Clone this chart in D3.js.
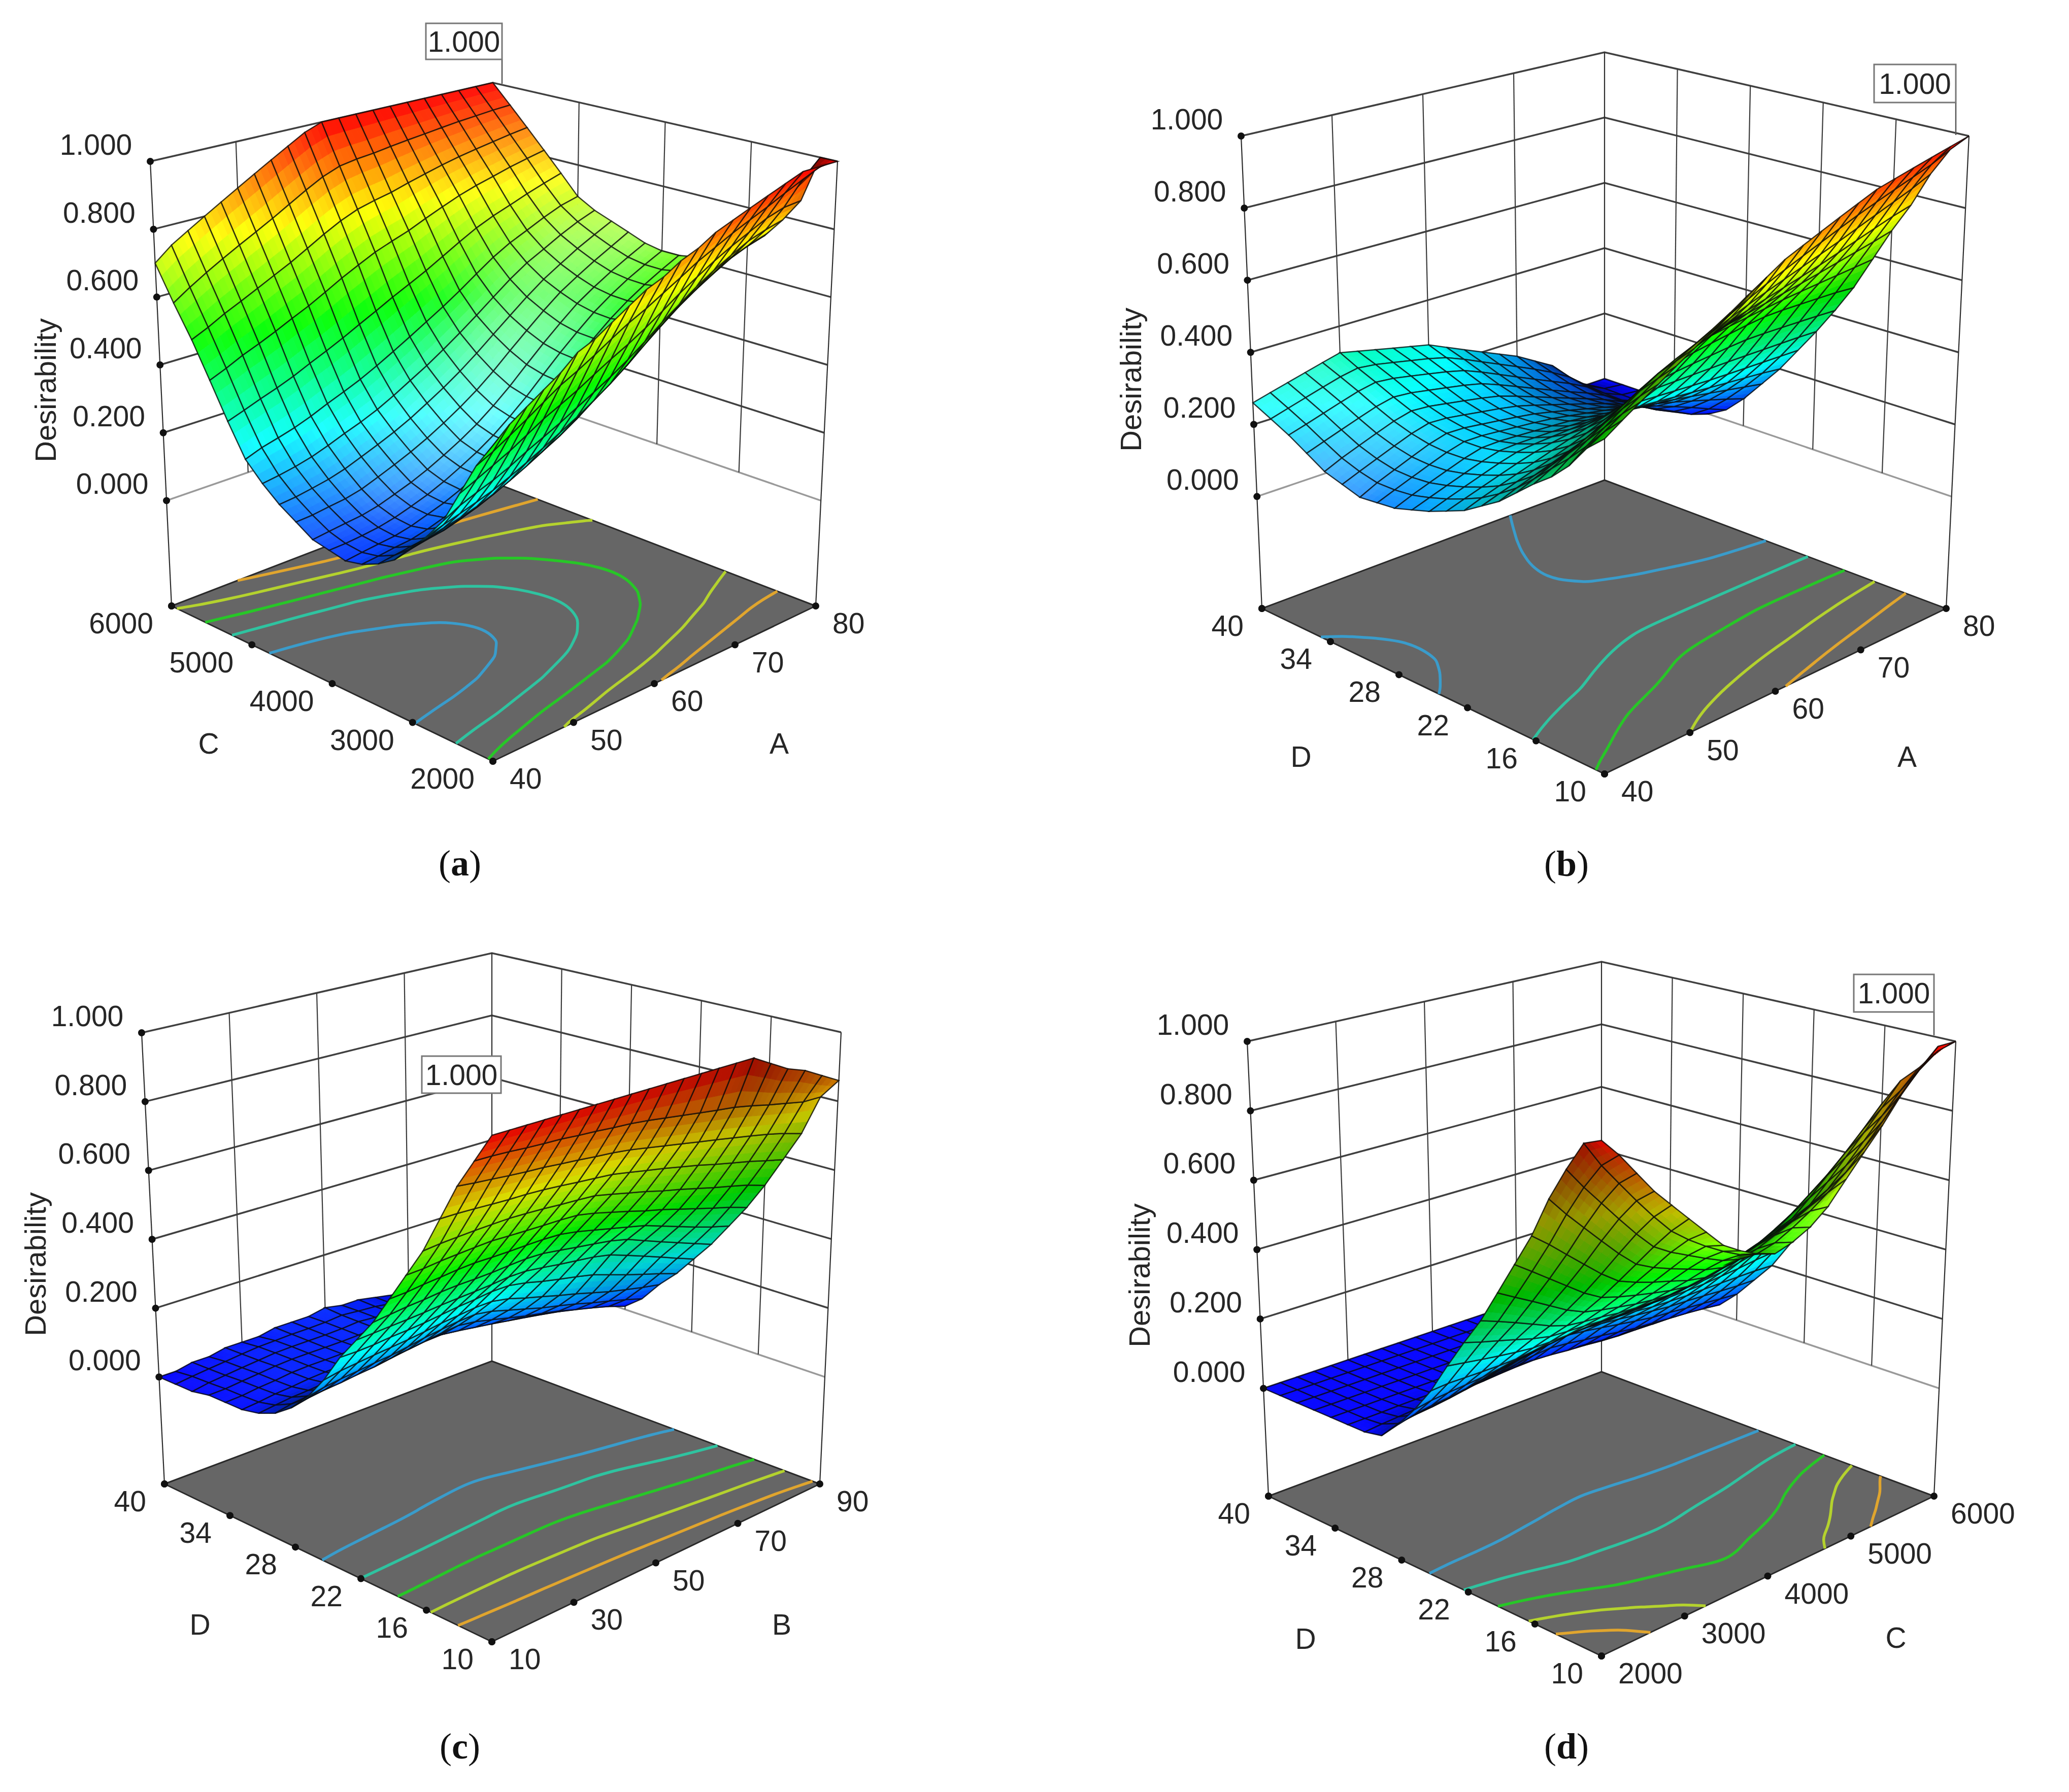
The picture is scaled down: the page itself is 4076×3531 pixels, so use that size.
<!DOCTYPE html>
<html><head><meta charset="utf-8">
<script src="https://cdn.jsdelivr.net/npm/d3@7/dist/d3.min.js"></script>
<style>html,body{margin:0;padding:0;background:#fff}svg{display:block}</style>
</head><body>
<script>
// Desirability. Rows: first factor (front -> right corner); columns: second factor (front -> left corner).
const surfaceA = [
[.52,.45,.36,.27,.21,.16,.11,.08,.06,.05,.06,.07,.10,.13,.17,.22,.31,.41,.51,.60,.70],
[.56,.47,.38,.29,.22,.17,.12,.08,.06,.05,.06,.07,.10,.13,.17,.23,.32,.43,.53,.63,.74],
[.59,.50,.40,.31,.23,.18,.13,.09,.07,.06,.06,.08,.11,.14,.18,.24,.34,.46,.56,.66,.77],
[.62,.53,.42,.32,.25,.19,.13,.09,.07,.06,.07,.08,.11,.15,.19,.25,.36,.47,.58,.69,.80],
[.65,.56,.45,.34,.26,.20,.15,.11,.08,.07,.08,.09,.12,.16,.21,.27,.37,.50,.60,.72,.83],
[.69,.59,.48,.37,.28,.22,.16,.12,.10,.09,.09,.11,.14,.18,.23,.29,.40,.52,.63,.74,.86],
[.71,.61,.50,.39,.30,.24,.18,.14,.11,.10,.11,.12,.16,.20,.24,.31,.42,.54,.65,.77,.89],
[.74,.64,.52,.41,.33,.26,.20,.16,.13,.12,.13,.14,.18,.22,.26,.33,.44,.57,.68,.80,.92],
[.77,.67,.55,.44,.35,.29,.23,.18,.16,.15,.15,.17,.20,.24,.29,.35,.47,.60,.71,.83,.95],
[.80,.70,.58,.46,.38,.31,.25,.21,.18,.17,.18,.19,.23,.27,.32,.38,.49,.62,.74,.86,.98],
[.82,.72,.60,.49,.41,.34,.28,.24,.21,.20,.21,.22,.26,.30,.34,.41,.52,.65,.76,.88,1],
[.85,.75,.63,.52,.44,.38,.32,.28,.25,.24,.25,.26,.29,.33,.38,.44,.54,.67,.77,.89,1],
[.87,.78,.66,.56,.47,.42,.36,.32,.29,.28,.29,.30,.33,.37,.41,.47,.57,.68,.78,.89,1],
[.90,.81,.70,.60,.52,.46,.40,.36,.34,.33,.34,.35,.38,.41,.45,.50,.60,.71,.80,.90,1],
[.92,.83,.73,.63,.56,.50,.45,.41,.39,.38,.39,.40,.42,.45,.49,.54,.63,.73,.81,.91,1],
[.94,.86,.76,.67,.60,.54,.49,.46,.44,.43,.43,.44,.47,.49,.53,.58,.66,.75,.83,.91,1],
[.96,.88,.79,.70,.63,.58,.53,.50,.48,.47,.48,.49,.51,.53,.57,.61,.68,.77,.84,.92,1],
[.98,.90,.81,.73,.66,.61,.57,.53,.52,.51,.51,.52,.54,.56,.59,.63,.70,.78,.85,.93,1],
[1,.93,.84,.76,.69,.65,.60,.57,.55,.54,.55,.55,.57,.60,.62,.66,.72,.80,.86,.93,1],
[1,.96,.85,.77,.71,.67,.63,.60,.58,.57,.57,.58,.60,.62,.65,.68,.74,.81,.87,.94,1],
[1,1,.86,.79,.73,.69,.65,.62,.61,.60,.60,.61,.63,.65,.67,.70,.76,.82,.88,.94,1]];
const surfaceB = [
[.52,.48,.42,.375,.34,.30,.26,.23,.20,.18,.16,.145,.13,.125,.12,.135,.15,.18,.21,.235,.26],
[.55,.51,.45,.404,.363,.318,.275,.244,.214,.194,.175,.16,.146,.142,.139,.153,.168,.196,.225,.249,.273],
[.579,.536,.484,.433,.386,.336,.289,.258,.228,.208,.19,.175,.162,.159,.158,.171,.186,.212,.24,.263,.286],
[.608,.564,.516,.462,.409,.354,.304,.272,.242,.222,.205,.19,.178,.176,.177,.189,.204,.228,.255,.277,.299],
[.638,.592,.548,.491,.432,.372,.318,.286,.256,.236,.22,.205,.194,.193,.196,.207,.222,.244,.27,.291,.312],
[.667,.62,.58,.52,.455,.39,.333,.30,.27,.25,.235,.22,.21,.21,.215,.225,.24,.26,.285,.305,.325],
[.698,.644,.598,.538,.477,.418,.358,.318,.284,.257,.237,.219,.207,.205,.208,.217,.231,.251,.275,.295,.314],
[.728,.668,.616,.556,.499,.446,.384,.336,.298,.264,.239,.218,.204,.2,.201,.209,.222,.242,.265,.285,.303],
[.759,.692,.634,.574,.521,.474,.409,.354,.312,.271,.241,.217,.201,.195,.194,.201,.213,.233,.255,.275,.292],
[.789,.716,.652,.592,.543,.502,.435,.372,.326,.278,.243,.216,.198,.19,.187,.193,.204,.224,.245,.265,.281],
[.82,.74,.67,.61,.565,.53,.46,.39,.34,.285,.245,.215,.195,.185,.18,.185,.195,.215,.235,.255,.27],
[.842,.762,.688,.624,.576,.536,.47,.396,.34,.282,.24,.209,.188,.175,.167,.169,.176,.192,.211,.231,.247],
[.864,.784,.706,.638,.587,.542,.48,.402,.34,.279,.235,.203,.181,.165,.154,.153,.157,.169,.187,.207,.224],
[.886,.806,.724,.652,.598,.548,.49,.408,.34,.276,.23,.197,.174,.155,.141,.137,.138,.146,.163,.183,.201],
[.908,.828,.742,.666,.609,.554,.5,.414,.34,.273,.225,.191,.167,.145,.128,.121,.119,.123,.139,.159,.178],
[.93,.85,.76,.68,.62,.56,.51,.42,.34,.27,.22,.185,.16,.135,.115,.105,.10,.10,.115,.135,.155],
[.944,.87,.782,.698,.633,.566,.507,.419,.34,.27,.216,.176,.144,.114,.092,.084,.08,.08,.092,.108,.124],
[.958,.89,.804,.716,.646,.572,.504,.418,.34,.27,.212,.167,.128,.093,.069,.063,.06,.06,.069,.081,.093],
[.972,.91,.826,.734,.659,.578,.501,.417,.34,.27,.208,.158,.112,.072,.046,.03,.02,.02,.02,.03,.03],
[.986,.93,.848,.752,.672,.584,.498,.416,.34,.27,.204,.149,.096,.051,0,0,0,0,0,0,0],
[1,.95,.87,.77,.685,.59,.495,.415,.34,.27,.20,.14,.08,.03,0,0,0,0,0,0,0]];
const surfaceC = [
[1,.92,.84,.74,.64,.56,.48,.40,.335,.27,.19,.125,.075,.04,.02,.01,.01,.01,0,0,0],
[1,.92,.84,.74,.64,.56,.48,.40,.34,.27,.20,.13,.08,.05,.02,.01,.01,.01,.01,.01,0],
[1,.92,.83,.74,.64,.57,.49,.41,.34,.27,.20,.14,.09,.05,.03,.02,.02,.02,.01,.01,.01],
[1,.91,.83,.73,.65,.57,.49,.41,.34,.28,.21,.14,.09,.05,.03,.02,.02,.02,.02,.02,.01],
[1,.91,.82,.73,.65,.57,.50,.42,.34,.28,.21,.15,.10,.06,.03,.03,.03,.03,.02,.02,.02],
[1,.91,.82,.73,.65,.58,.50,.42,.35,.28,.22,.15,.10,.06,.04,.03,.03,.03,.03,.03,.02],
[1,.90,.81,.73,.65,.57,.50,.42,.35,.29,.22,.16,.11,.07,.04,.03,.03,.03,.03,.03,.02],
[1,.90,.81,.72,.65,.57,.50,.42,.35,.30,.23,.17,.12,.07,.05,.03,.03,.03,.03,.03,.03],
[1,.89,.80,.72,.64,.57,.50,.43,.35,.30,.23,.18,.12,.08,.05,.04,.03,.03,.03,.03,.03],
[1,.89,.80,.71,.64,.57,.50,.43,.36,.31,.24,.18,.13,.09,.05,.04,.03,.03,.03,.03,.03],
[1,.88,.79,.71,.64,.57,.50,.43,.36,.31,.24,.19,.14,.09,.06,.04,.04,.04,.04,.04,.04],
[1,.87,.78,.70,.62,.56,.49,.42,.35,.30,.23,.18,.13,.08,.05,.04,.03,.03,.03,.03,.03],
[1,.86,.77,.69,.61,.54,.48,.41,.35,.28,.21,.16,.12,.07,.05,.03,.03,.03,.03,.03,.03],
[1,.85,.76,.68,.60,.53,.46,.41,.34,.27,.20,.15,.10,.07,.04,.03,.03,.02,.02,.02,.02],
[1,.84,.75,.67,.58,.51,.45,.40,.34,.26,.18,.13,.09,.06,.03,.02,.02,.02,.01,.01,.01],
[1,.83,.74,.66,.57,.50,.44,.39,.33,.25,.17,.12,.08,.05,.03,.02,.02,.01,.01,.01,.01],
[.97,.83,.73,.64,.56,.48,.42,.36,.31,.23,.15,.11,.07,.04,.02,.02,.02,.01,.01,.01,.01],
[.94,.82,.72,.63,.54,.47,.40,.34,.29,.21,.14,.09,.05,.03,.02,.01,.01,.01,.01,.01,.01],
[.92,.81,.71,.62,.53,.45,.38,.32,.27,.19,.13,.08,.04,.02,.01,.01,.01,0,0,0,0],
[.89,.81,.69,.60,.52,.44,.36,.30,.24,.18,.12,.06,.02,.01,.01,0,0,0,0,0,0],
[.86,.80,.68,.59,.50,.42,.35,.28,.22,.16,.11,.05,.01,0,0,0,0,0,0,0,0]];
const surfaceD = [
[1,.98,.90,.81,.70,.61,.52,.43,.355,.275,.19,.12,.06,.01,0,0,0,0,0,0,0],
[.95,.92,.84,.76,.66,.58,.49,.41,.34,.27,.19,.13,.07,.02,0,0,0,0,0,0,0],
[.89,.86,.79,.71,.62,.54,.47,.39,.33,.26,.19,.13,.08,.03,0,0,0,0,0,0,0],
[.83,.80,.73,.66,.58,.51,.44,.37,.32,.25,.19,.14,.08,.03,.01,0,0,0,0,0,0],
[.78,.74,.68,.61,.54,.47,.41,.35,.30,.25,.19,.14,.09,.04,.01,0,0,0,0,0,0],
[.73,.68,.62,.56,.50,.44,.39,.33,.29,.24,.19,.15,.10,.05,.01,0,0,0,0,0,0],
[.68,.65,.60,.54,.49,.43,.38,.33,.29,.24,.20,.16,.11,.06,.01,0,0,0,0,0,0],
[.63,.62,.58,.52,.47,.42,.37,.33,.29,.24,.20,.16,.12,.07,.01,0,0,0,0,0,0],
[.60,.59,.55,.51,.46,.41,.36,.32,.28,.25,.21,.17,.13,.07,.02,0,0,0,0,0,0],
[.575,.56,.53,.49,.44,.40,.36,.32,.28,.25,.21,.17,.14,.08,.02,0,0,0,0,0,0],
[.56,.54,.51,.47,.43,.39,.35,.32,.28,.25,.22,.18,.15,.09,.02,0,0,0,0,0,0],
[.575,.56,.53,.49,.44,.40,.36,.32,.28,.25,.21,.17,.14,.08,.02,0,0,0,0,0,0],
[.60,.59,.55,.51,.46,.42,.37,.33,.29,.25,.21,.17,.13,.07,.01,0,0,0,0,0,0],
[.64,.62,.57,.52,.47,.43,.38,.34,.29,.25,.20,.16,.12,.07,.01,0,0,0,0,0,0],
[.70,.65,.60,.54,.49,.45,.40,.34,.30,.25,.20,.16,.11,.06,0,0,0,0,0,0,0],
[.76,.68,.62,.56,.51,.46,.41,.35,.30,.25,.20,.15,.10,.05,0,0,0,0,0,0,0],
[.82,.74,.68,.62,.56,.50,.44,.37,.31,.26,.20,.15,.10,.05,0,0,0,0,0,0,0],
[.89,.79,.73,.68,.61,.54,.47,.39,.32,.26,.20,.15,.09,.04,0,0,0,0,0,0,0],
[.95,.86,.79,.73,.66,.58,.50,.42,.34,.27,.20,.14,.09,.04,0,0,0,0,0,0,0],
[1,.93,.84,.79,.72,.62,.53,.44,.35,.27,.20,.14,.08,.03,0,0,0,0,0,0,0],
[1,.96,.90,.85,.77,.66,.56,.46,.36,.28,.20,.14,.08,.03,0,0,0,0,0,0,0]];

const ticksA = [40,50,60,70,80];
const ticksB = [10,30,50,70,90];
const ticksC = [2000,3000,4000,5000,6000];
const ticksD = [10,16,22,28,34,40];
const ticksZ = [0,0.2,0.4,0.6,0.8,1];
const contourLevels = [1/6,2/6,3/6,4/6,5/6];
const contourColors = ["#3a9ccb","#2fc3a0","#27c727","#b4d22e","#e0a52e"];

const panels = [
 {data:surfaceA,uName:"A",vName:"C",uTicks:ticksA,vTicks:ticksC,sub:"a",
  L:[338,1194],F:[971,1500],R:[1607,1194],B:[971,950],Lt:[296,318],Ft:[971,518],Rt:[1650,318],Bt:[971,163],
  title:[89,769],vPos:[411,1465],uPos:[1535,1465],subPos:[906,1701],box:[839,46,150,71],lead:[989,117,165]},
 {data:surfaceB,uName:"A",vName:"D",uTicks:ticksA,vTicks:ticksD,sub:"b",
  L:[2486,1199],F:[3161,1525],R:[3834,1199],B:[3161,946],Lt:[2445,268],Ft:[3161,483],Rt:[3879,268],Bt:[3161,103],
  title:[2227,748],vPos:[2563,1491],uPos:[3757,1491],subPos:[3086,1702],box:[3692,127,161,75],lead:[3853,202,266]},
 {data:surfaceC,uName:"B",vName:"D",uTicks:ticksB,vTicks:ticksD,sub:"c",
  L:[324,2924],F:[969,3235],R:[1615,2924],B:[969,2682],Lt:[279,2035],Ft:[969,2237],Rt:[1657,2034],Bt:[969,1878],
  title:[69,2491],vPos:[394,3201],uPos:[1540,3201],subPos:[906,3441],box:[831,2081,156,73],lead:null},
 {data:surfaceD,uName:"C",vName:"D",uTicks:ticksC,vTicks:ticksD,sub:"d",
  L:[2499,2948],F:[3155,3263],R:[3810,2948],B:[3155,2703],Lt:[2457,2052],Ft:[3155,2247],Rt:[3853,2052],Bt:[3155,1895],
  title:[2244,2513],vPos:[2572,3229],uPos:[3735,3227],subPos:[3086,3441],box:[3652,1920,158,74],lead:[3810,1994,2040]}
];

const W=4076,H=3531,SANS="'Liberation Sans',Arial,sans-serif",SERIF="'Liberation Serif',serif",INK="#262626";
const svg=d3.select("body").append("svg").attr("width",W).attr("height",H).attr("viewBox",[0,0,W,H]);
svg.append("rect").attr("width",W).attr("height",H).attr("fill","#fff");

const zScale=d3.scaleLinear().domain([0,1]).range([0.237,1]);
const ramp=d3.scaleLinear().domain([0,.25,.5,.75,1]).range(["#0000ff","#00ffff","#00ff00","#ffff00","#ff0000"]).clamp(true);
const V=[-.64,-.64,.43],LIGHT=[-.6,-.35,.72],ZS=.82;
const fmt=d3.format(".3f");

// Display only: ease reading noise between neighbouring interior nodes; edges stay as read.
function easeGrid(g){
  const n=g.length,m=g[0].length;
  return g.map((row,i)=>row.map((z,j)=>{
    if(i===0||j===0||i===n-1||j===m-1)return z;
    return (g[i-1][j]+g[i+1][j]+g[i][j-1]+g[i][j+1]+4*z)/8;
  }));
}

function shaded(z,zu,zv){
  const n=[-zu*ZS,-zv*ZS,1],m=Math.hypot(...n);
  const s=(n[0]*V[0]+n[1]*V[1]+n[2]*V[2])/m;
  const d=(n[0]*LIGHT[0]+n[1]*LIGHT[1]+n[2]*LIGHT[2])/m;
  let k,pale=0;
  if(s>=0){k=.35+.65*Math.min(1,s/.4);pale=.5*Math.pow(Math.max(0,d),8);}
  else{k=Math.max(.35,Math.min(1,1.2+1.17*s));}
  const c=d3.rgb(ramp(z));
  const f=v=>Math.round(Math.min(255,v*k*(1-pale)+255*pale));
  return `rgb(${f(c.r)},${f(c.g)},${f(c.b)})`;
}

panels.forEach(p=>{
  const g=svg.append("g");
  const grid=easeGrid(easeGrid(p.data));
  const lerp=(a,b,t)=>[a[0]+(b[0]-a[0])*t,a[1]+(b[1]-a[1])*t];
  const bil=(f,r,l,b,u,v)=>lerp(lerp(f,r,u),lerp(l,b,u),v);
  const proj=(u,v,w)=>lerp(bil(p.F,p.R,p.L,p.B,u,v),bil(p.Ft,p.Rt,p.Lt,p.Bt,u,v),w);
  const uScale=d3.scaleLinear().domain(d3.extent(p.uTicks)).range([0,1]);
  const vScale=d3.scaleLinear().domain(d3.extent(p.vTicks)).range([0,1]);
  const seg=(pts,stroke,sw)=>g.append("path").attr("d",d3.line()(pts)).attr("fill","none").attr("stroke",stroke).attr("stroke-width",sw);

  // walls
  ticksZ.forEach(z=>{
    const w=zScale(z);
    seg([proj(0,1,w),proj(1,1,w),proj(1,0,w)],z===0?"#9a9a9a":"#404040",3.5);
  });
  [[0,1],[1,1],[1,0]].forEach(c=>seg([proj(c[0],c[1],0),proj(c[0],c[1],1)],"#2c2c2c",2.2));
  p.uTicks.slice(1,-1).forEach(t=>seg([proj(uScale(t),1,zScale(0)),proj(uScale(t),1,1)],"#3a3a3a",2.2));
  p.vTicks.slice(1,-1).forEach(t=>seg([proj(1,vScale(t),zScale(0)),proj(1,vScale(t),1)],"#3a3a3a",2.2));

  // floor
  g.append("path").attr("d",d3.line()([p.F,p.R,p.B,p.L])+"Z").attr("fill","#666").attr("stroke","#2a2a2a").attr("stroke-width",3).attr("stroke-linejoin","round");

  // contours on floor, from the same grid
  const nu=grid.length,nv=grid[0].length,flat=[];
  for(let j=0;j<nv;j++)for(let i=0;i<nu;i++)flat.push(grid[i][j]);
  const iScale=d3.scaleLinear().domain([.5,nu-.5]).range([0,1]);
  const jScale=d3.scaleLinear().domain([.5,nv-.5]).range([0,1]);
  const cLine=d3.line().curve(d3.curveBasis);
  const inside=q=>q[0]>=.5-1e-6&&q[0]<=nu-.5+1e-6&&q[1]>=.5-1e-6&&q[1]<=nv-.5+1e-6;
  d3.contours().size([nu,nv]).thresholds(contourLevels)(flat).forEach((mp,ci)=>{
    mp.coordinates.forEach(poly=>poly.forEach(ring0=>{
      let ring=ring0.slice(0,-1);
      const firstOut=ring.findIndex(q=>!inside(q));
      const pieces=[];
      if(firstOut<0){pieces.push(ring.concat([ring[0]]));}
      else{
        ring=ring.slice(firstOut).concat(ring.slice(0,firstOut));
        let cur=[];
        ring.forEach(q=>{ if(inside(q))cur.push(q); else { if(cur.length>1)pieces.push(cur); cur=[]; } });
        if(cur.length>1)pieces.push(cur);
      }
      pieces.forEach(pc=>{
        const pts=pc.map(q=>proj(iScale(q[0]),jScale(q[1]),0));
        g.append("path").attr("d",cLine(pts)).attr("fill","none").attr("stroke",contourColors[ci]).attr("stroke-width",5.5).attr("stroke-linecap","butt");
      });
    }));
  });

  // surface, painted from back corner to front
  const gx=d3.scaleLinear().domain([0,nu-1]).range([0,1]);
  const gy=d3.scaleLinear().domain([0,nv-1]).range([0,1]);
  const Z=(i,j)=>grid[i][j];
  const gu=(i,j)=>(Z(Math.min(nu-1,i+1),j)-Z(Math.max(0,i-1),j))/(gx(Math.min(nu-1,i+1))-gx(Math.max(0,i-1)));
  const gv=(i,j)=>(Z(i,Math.min(nv-1,j+1))-Z(i,Math.max(0,j-1)))/(gy(Math.min(nv-1,j+1))-gy(Math.max(0,j-1)));
  const cells=[];
  for(let i=0;i<nu-1;i++)for(let j=0;j<nv-1;j++)cells.push([i,j]);
  cells.sort((a,b)=>(b[0]+b[1])-(a[0]+a[1]));
  const SUB=3,sg=g.append("g");
  const bl=(a,b,c,d,s,t)=>a*(1-s)*(1-t)+b*s*(1-t)+c*(1-s)*t+d*s*t;
  cells.forEach(([i,j])=>{
    const zq=[Z(i,j),Z(i+1,j),Z(i,j+1),Z(i+1,j+1)];
    const uq=[gu(i,j),gu(i+1,j),gu(i,j+1),gu(i+1,j+1)];
    const vq=[gv(i,j),gv(i+1,j),gv(i,j+1),gv(i+1,j+1)];
    const at=(s,t)=>proj(gx(i)+(gx(i+1)-gx(i))*s,gy(j)+(gy(j+1)-gy(j))*t,zScale(bl(...zq,s,t)));
    for(let a=SUB-1;a>=0;a--)for(let b=SUB-1;b>=0;b--){
      const s0=a/SUB,s1=(a+1)/SUB,t0=b/SUB,t1=(b+1)/SUB,sc=(s0+s1)/2,tc=(t0+t1)/2;
      const col=shaded(bl(...zq,sc,tc),bl(...uq,sc,tc),bl(...vq,sc,tc));
      sg.append("path").attr("d",d3.line()([at(s0,t0),at(s1,t0),at(s1,t1),at(s0,t1)])+"Z")
        .attr("fill",col).attr("stroke",col).attr("stroke-width",1);
    }
    sg.append("path").attr("d",d3.line()([at(0,0),at(1,0),at(1,1),at(0,1)])+"Z")
      .attr("fill","none").attr("stroke","rgba(10,10,10,.78)").attr("stroke-width",2.5);
  });

  // tick dots
  const dot=q=>g.append("circle").attr("cx",q[0]).attr("cy",q[1]).attr("r",7).attr("fill","#111");
  const label=(q,t,anchor,size)=>g.append("text").attr("x",q[0]).attr("y",q[1]).attr("text-anchor",anchor||"middle")
    .attr("dominant-baseline","central").attr("font-family",SANS).attr("font-size",size||57).attr("fill",INK).text(t);
  ticksZ.forEach(z=>{
    const q=proj(0,1,zScale(z));dot(q);label([q[0]-107,q[1]-33],fmt(z));
  });
  dot(proj(0,1,0));
  p.vTicks.forEach(t=>{
    const q=proj(0,vScale(t),0);dot(q);label([q[0]-36,q[1]+34],t,"end");
  });
  p.uTicks.forEach(t=>{
    const q=proj(uScale(t),0,0);dot(q);label([q[0]+33,q[1]+34],t,"start");
  });
  label(p.vPos,p.vName);label(p.uPos,p.uName);
  g.append("text").attr("transform",`translate(${p.title[0]},${p.title[1]}) rotate(-90)`).attr("text-anchor","middle")
    .attr("dominant-baseline","central").attr("font-family",SANS).attr("font-size",58).attr("fill",INK).text("Desirability");

  // peak label
  if(p.lead)seg([[p.lead[0],p.lead[1]],[p.lead[0],p.lead[2]]],"#555",2.5);
  g.append("rect").attr("x",p.box[0]).attr("y",p.box[1]).attr("width",p.box[2]).attr("height",p.box[3]).attr("fill","#fff").attr("stroke","#777").attr("stroke-width",3);
  label([p.box[0]+p.box[2]/2,p.box[1]+p.box[3]/2],fmt(1));

  // sub caption
  const cap=g.append("text").attr("x",p.subPos[0]).attr("y",p.subPos[1]).attr("text-anchor","middle").attr("dominant-baseline","central")
    .attr("font-family",SERIF).attr("font-size",72).attr("fill","#111");
  cap.append("tspan").text("(");
  cap.append("tspan").attr("font-weight","bold").text(p.sub);
  cap.append("tspan").text(")");
});
</script>
</body></html>
